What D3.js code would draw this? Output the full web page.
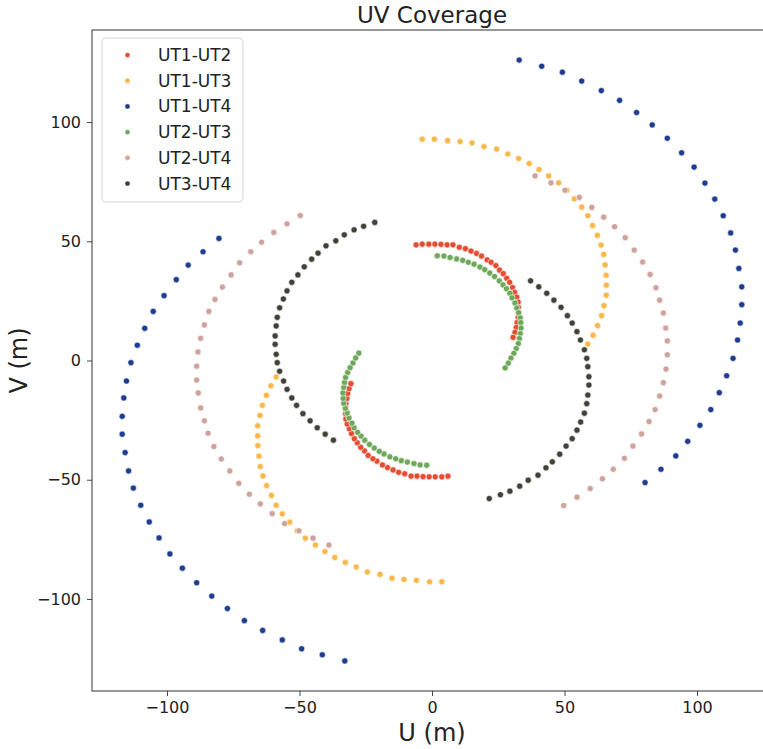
<!DOCTYPE html>
<html>
<head>
<meta charset="utf-8">
<script src="https://cdn.jsdelivr.net/npm/d3@7"></script>
<style>
  html, body { margin: 0; padding: 0; background: #ffffff; }
  svg { display: block; font-family: "DejaVu Sans", sans-serif; }
</style>
</head>
<body>
<svg id="chart" width="763" height="749"></svg>
<script>
// Baseline tracks (u, v) in metres, one array per telescope pair,
// each holding the track and its conjugate (-u, -v).
const ut1_ut2 = [
  [-6.0,48.5],[-3.7,48.8],[-1.2,48.8],[1.1,48.8],[3.4,48.7],[5.7,48.5],[7.9,48.5],[10.3,47.5],[12.6,46.9],[14.7,45.9],
  [16.8,44.9],[18.7,43.8],[20.8,42.2],[22.3,41.2],[24.1,39.8],[25.5,37.9],[26.9,36.4],[28.2,34.5],[29.3,32.8],[30.4,30.6],
  [31.2,28.6],[32.0,26.6],[32.5,24.5],[32.6,22.3],[32.6,20.2],[32.5,18.1],[32.1,15.9],[31.8,13.8],[31.3,11.8],[30.6,9.7],
  [6.0,-48.5],[3.7,-48.8],[1.2,-48.8],[-1.1,-48.8],[-3.4,-48.7],[-5.7,-48.5],[-7.9,-48.5],[-10.3,-47.5],[-12.6,-46.9],[-14.7,-45.9],
  [-16.8,-44.9],[-18.7,-43.8],[-20.8,-42.2],[-22.3,-41.2],[-24.1,-39.8],[-25.5,-37.9],[-26.9,-36.4],[-28.2,-34.5],[-29.3,-32.8],[-30.4,-30.6],
  [-31.2,-28.6],[-32.0,-26.6],[-32.5,-24.5],[-32.6,-22.3],[-32.6,-20.2],[-32.5,-18.1],[-32.1,-15.9],[-31.8,-13.8],[-31.3,-11.8],[-30.6,-9.7]
];

const ut1_ut3 = [
  [-3.7,92.8],[0.9,92.8],[5.9,92.2],[10.6,91.8],[15.1,91.3],[19.6,89.7],[24.4,88.7],[28.6,86.6],[32.7,84.7],[36.7,82.6],
  [40.4,80.1],[44.0,77.4],[47.8,74.5],[50.9,71.4],[53.7,67.8],[56.5,64.3],[58.8,60.7],[60.6,56.6],[62.4,52.5],[63.8,48.4],
  [64.8,44.5],[65.3,40.1],[65.7,35.7],[65.8,31.6],[65.8,27.4],[64.9,23.0],[64.0,18.8],[62.5,14.6],[60.8,10.6],[58.8,6.9],
  [3.7,-92.8],[-0.9,-92.8],[-5.9,-92.2],[-10.6,-91.8],[-15.1,-91.3],[-19.6,-89.7],[-24.4,-88.7],[-28.6,-86.6],[-32.7,-84.7],[-36.7,-82.6],
  [-40.4,-80.1],[-44.0,-77.4],[-47.8,-74.5],[-50.9,-71.4],[-53.7,-67.8],[-56.5,-64.3],[-58.8,-60.7],[-60.6,-56.6],[-62.4,-52.5],[-63.8,-48.4],
  [-64.8,-44.5],[-65.3,-40.1],[-65.7,-35.7],[-65.8,-31.6],[-65.8,-27.4],[-64.9,-23.0],[-64.0,-18.8],[-62.5,-14.6],[-60.8,-10.6],[-58.8,-6.9]
];

const ut1_ut4 = [
  [32.9,126.0],[41.4,123.4],[49.2,120.9],[56.5,117.2],[63.9,113.2],[70.8,109.1],[77.2,104.0],[83.1,98.8],[88.8,93.2],[94.2,87.1],
  [98.9,81.1],[103.0,74.4],[106.7,67.7],[109.9,60.7],[112.7,53.5],[114.5,46.3],[115.8,38.6],[116.9,30.9],[116.9,23.4],[116.3,15.7],
  [115.3,8.6],[113.6,0.9],[111.2,-6.4],[108.4,-13.5],[105.2,-20.6],[101.1,-27.2],[96.5,-33.9],[92.0,-40.0],[86.4,-45.6],[80.4,-51.2],
  [-32.9,-126.0],[-41.4,-123.4],[-49.2,-120.9],[-56.5,-117.2],[-63.9,-113.2],[-70.8,-109.1],[-77.2,-104.0],[-83.1,-98.8],[-88.8,-93.2],[-94.2,-87.1],
  [-98.9,-81.1],[-103.0,-74.4],[-106.7,-67.7],[-109.9,-60.7],[-112.7,-53.5],[-114.5,-46.3],[-115.8,-38.6],[-116.9,-30.9],[-116.9,-23.4],[-116.3,-15.7],
  [-115.3,-8.6],[-113.6,-0.9],[-111.2,6.4],[-108.4,13.5],[-105.2,20.6],[-101.1,27.2],[-96.5,33.9],[-92.0,40.0],[-86.4,45.6],[-80.4,51.2]
];

const ut2_ut3 = [
  [2.0,43.9],[4.5,43.8],[6.8,43.2],[9.3,42.6],[11.6,42.0],[13.7,41.2],[15.9,40.4],[18.1,39.2],[19.9,38.1],[21.8,36.7],
  [23.6,35.2],[25.4,33.4],[26.8,31.7],[28.1,30.1],[29.4,28.2],[30.2,26.3],[31.3,24.1],[32.0,22.0],[32.7,20.0],[33.3,17.9],
  [33.5,15.9],[33.6,13.6],[33.3,11.3],[33.0,9.2],[32.6,7.1],[31.8,5.0],[30.9,3.0],[29.8,1.0],[28.8,-1.1],[27.6,-3.1],
  [-2.0,-43.9],[-4.5,-43.8],[-6.8,-43.2],[-9.3,-42.6],[-11.6,-42.0],[-13.7,-41.2],[-15.9,-40.4],[-18.1,-39.2],[-19.9,-38.1],[-21.8,-36.7],
  [-23.6,-35.2],[-25.4,-33.4],[-26.8,-31.7],[-28.1,-30.1],[-29.4,-28.2],[-30.2,-26.3],[-31.3,-24.1],[-32.0,-22.0],[-32.7,-20.0],[-33.3,-17.9],
  [-33.5,-15.9],[-33.6,-13.6],[-33.3,-11.3],[-33.0,-9.2],[-32.6,-7.1],[-31.8,-5.0],[-30.9,-3.0],[-29.8,-1.0],[-28.8,1.1],[-27.6,3.1]
];

const ut2_ut4 = [
  [38.9,77.4],[44.9,74.5],[50.2,71.4],[55.6,68.4],[60.3,64.2],[64.8,60.1],[68.9,56.1],[72.9,51.5],[76.3,46.3],[79.5,41.3],
  [82.3,36.1],[84.5,30.5],[85.9,25.3],[87.3,19.9],[88.2,13.6],[88.8,8.2],[88.8,2.4],[88.3,-3.6],[87.3,-9.3],[85.9,-14.9],
  [84.2,-20.6],[81.9,-25.6],[79.1,-30.8],[75.8,-35.9],[72.6,-41.0],[68.4,-45.6],[64.3,-49.6],[59.7,-53.7],[54.7,-57.3],[49.7,-60.8],
  [-38.9,-77.4],[-44.9,-74.5],[-50.2,-71.4],[-55.6,-68.4],[-60.3,-64.2],[-64.8,-60.1],[-68.9,-56.1],[-72.9,-51.5],[-76.3,-46.3],[-79.5,-41.3],
  [-82.3,-36.1],[-84.5,-30.5],[-85.9,-25.3],[-87.3,-19.9],[-88.2,-13.6],[-88.8,-8.2],[-88.8,-2.4],[-88.3,3.6],[-87.3,9.3],[-85.9,14.9],
  [-84.2,20.6],[-81.9,25.6],[-79.1,30.8],[-75.8,35.9],[-72.6,41.0],[-68.4,45.6],[-64.3,49.6],[-59.7,53.7],[-54.7,57.3],[-49.7,60.8]
];

const ut3_ut4 = [
  [37.2,33.4],[40.3,30.9],[43.3,28.2],[46.0,25.3],[48.7,22.3],[51.1,18.8],[52.9,15.7],[54.7,12.1],[56.0,8.6],[57.5,4.5],
  [58.4,0.9],[58.8,-2.6],[59.2,-6.8],[59.2,-10.3],[58.8,-14.5],[58.4,-18.1],[57.5,-22.1],[56.1,-25.8],[54.7,-29.2],[52.9,-32.8],
  [50.6,-35.9],[48.2,-39.3],[45.4,-42.5],[43.0,-45.0],[40.0,-48.1],[36.3,-50.2],[33.1,-52.7],[29.4,-54.8],[25.8,-56.3],[21.6,-57.9],
  [-37.2,-33.4],[-40.3,-30.9],[-43.3,-28.2],[-46.0,-25.3],[-48.7,-22.3],[-51.1,-18.8],[-52.9,-15.7],[-54.7,-12.1],[-56.0,-8.6],[-57.5,-4.5],
  [-58.4,-0.9],[-58.8,2.6],[-59.2,6.8],[-59.2,10.3],[-58.8,14.5],[-58.4,18.1],[-57.5,22.1],[-56.1,25.8],[-54.7,29.2],[-52.9,32.8],
  [-50.6,35.9],[-48.2,39.3],[-45.4,42.5],[-43.0,45.0],[-40.0,48.1],[-36.3,50.2],[-33.1,52.7],[-29.4,54.8],[-25.8,56.3],[-21.6,57.9]
];

const baselineNames = ["UT1-UT2", "UT1-UT3", "UT1-UT4", "UT2-UT3", "UT2-UT4", "UT3-UT4"];
const baselineColors = ["#e44d31", "#f9b84b", "#1f3d8e", "#6fa85b", "#cfa39d", "#414138"];
const tracks = [ut1_ut2, ut1_ut3, ut1_ut4, ut2_ut3, ut2_ut4, ut3_ut4];

const xTicks = [-100, -50, 0, 50, 100];
const yTicks = [-100, -50, 0, 50, 100];

const svg = d3.select("#chart");
const plot = { left: 92, right: 772, top: 30, bottom: 691 };

const x = d3.scaleLinear().domain([-128.3, 128.3]).range([plot.left, plot.right]);
const y = d3.scaleLinear().domain([-138.6, 138.6]).range([plot.bottom, plot.top]);

const axisColor = "#333333";
const textColor = "#222222";

// Axes
const xAxis = svg.append("g")
  .attr("transform", `translate(0,${plot.bottom})`)
  .call(d3.axisBottom(x).tickValues(xTicks).tickSize(5).tickPadding(6)
    .tickFormat(d => d < 0 ? "\u2212" + Math.abs(d) : d));
const yAxis = svg.append("g")
  .attr("transform", `translate(${plot.left},0)`)
  .call(d3.axisLeft(y).tickValues(yTicks).tickSize(5).tickPadding(6)
    .tickFormat(d => d < 0 ? "\u2212" + Math.abs(d) : d));

[xAxis, yAxis].forEach(g => {
  g.select(".domain").remove();
  g.selectAll(".tick line").attr("stroke", axisColor).attr("stroke-width", 0.9);
  g.selectAll(".tick text")
    .attr("fill", textColor)
    .style("font-family", "'DejaVu Sans', sans-serif")
    .style("font-size", "16px");
});

// Frame (the right edge sits past the canvas)
svg.append("rect")
  .attr("x", plot.left).attr("y", plot.top)
  .attr("width", plot.right - plot.left).attr("height", plot.bottom - plot.top)
  .attr("fill", "none").attr("stroke", axisColor).attr("stroke-width", 1);

// Points
tracks.forEach((pts, i) => {
  svg.append("g")
    .selectAll("circle")
    .data(pts)
    .join("circle")
    .attr("cx", d => x(d[0]))
    .attr("cy", d => y(d[1]))
    .attr("r", 3.1)
    .attr("fill", baselineColors[i])
    .attr("stroke", "#ffffff")
    .attr("stroke-width", 0.6);
});

// Title and axis labels
svg.append("text")
  .attr("x", (plot.left + plot.right) / 2).attr("y", 23)
  .attr("text-anchor", "middle")
  .attr("fill", textColor)
  .style("font-size", "23px")
  .text("UV Coverage");

svg.append("text")
  .attr("x", (plot.left + plot.right) / 2).attr("y", 741)
  .attr("text-anchor", "middle")
  .attr("fill", textColor)
  .style("font-size", "24px")
  .text("U (m)");

svg.append("text")
  .attr("transform", `translate(27,${(plot.top + plot.bottom) / 2}) rotate(-90)`)
  .attr("text-anchor", "middle")
  .attr("fill", textColor)
  .style("font-size", "24px")
  .text("V (m)");

// Legend
const legend = svg.append("g");
legend.append("rect")
  .attr("x", 102).attr("y", 38).attr("width", 141).attr("height", 164)
  .attr("rx", 4)
  .attr("fill", "#ffffff").attr("fill-opacity", 0.85)
  .attr("stroke", "#d6d6d6").attr("stroke-width", 1);

baselineNames.forEach((name, i) => {
  const cy = 55 + i * 25.7;
  legend.append("circle")
    .attr("cx", 127.5).attr("cy", cy).attr("r", 2.6)
    .attr("fill", baselineColors[i])
    .attr("stroke", "#ffffff").attr("stroke-width", 0.5);
  legend.append("text")
    .attr("x", 158).attr("y", cy + 6)
    .attr("fill", textColor)
    .style("font-size", "17px")
    .text(name);
});
</script>
</body>
</html>
